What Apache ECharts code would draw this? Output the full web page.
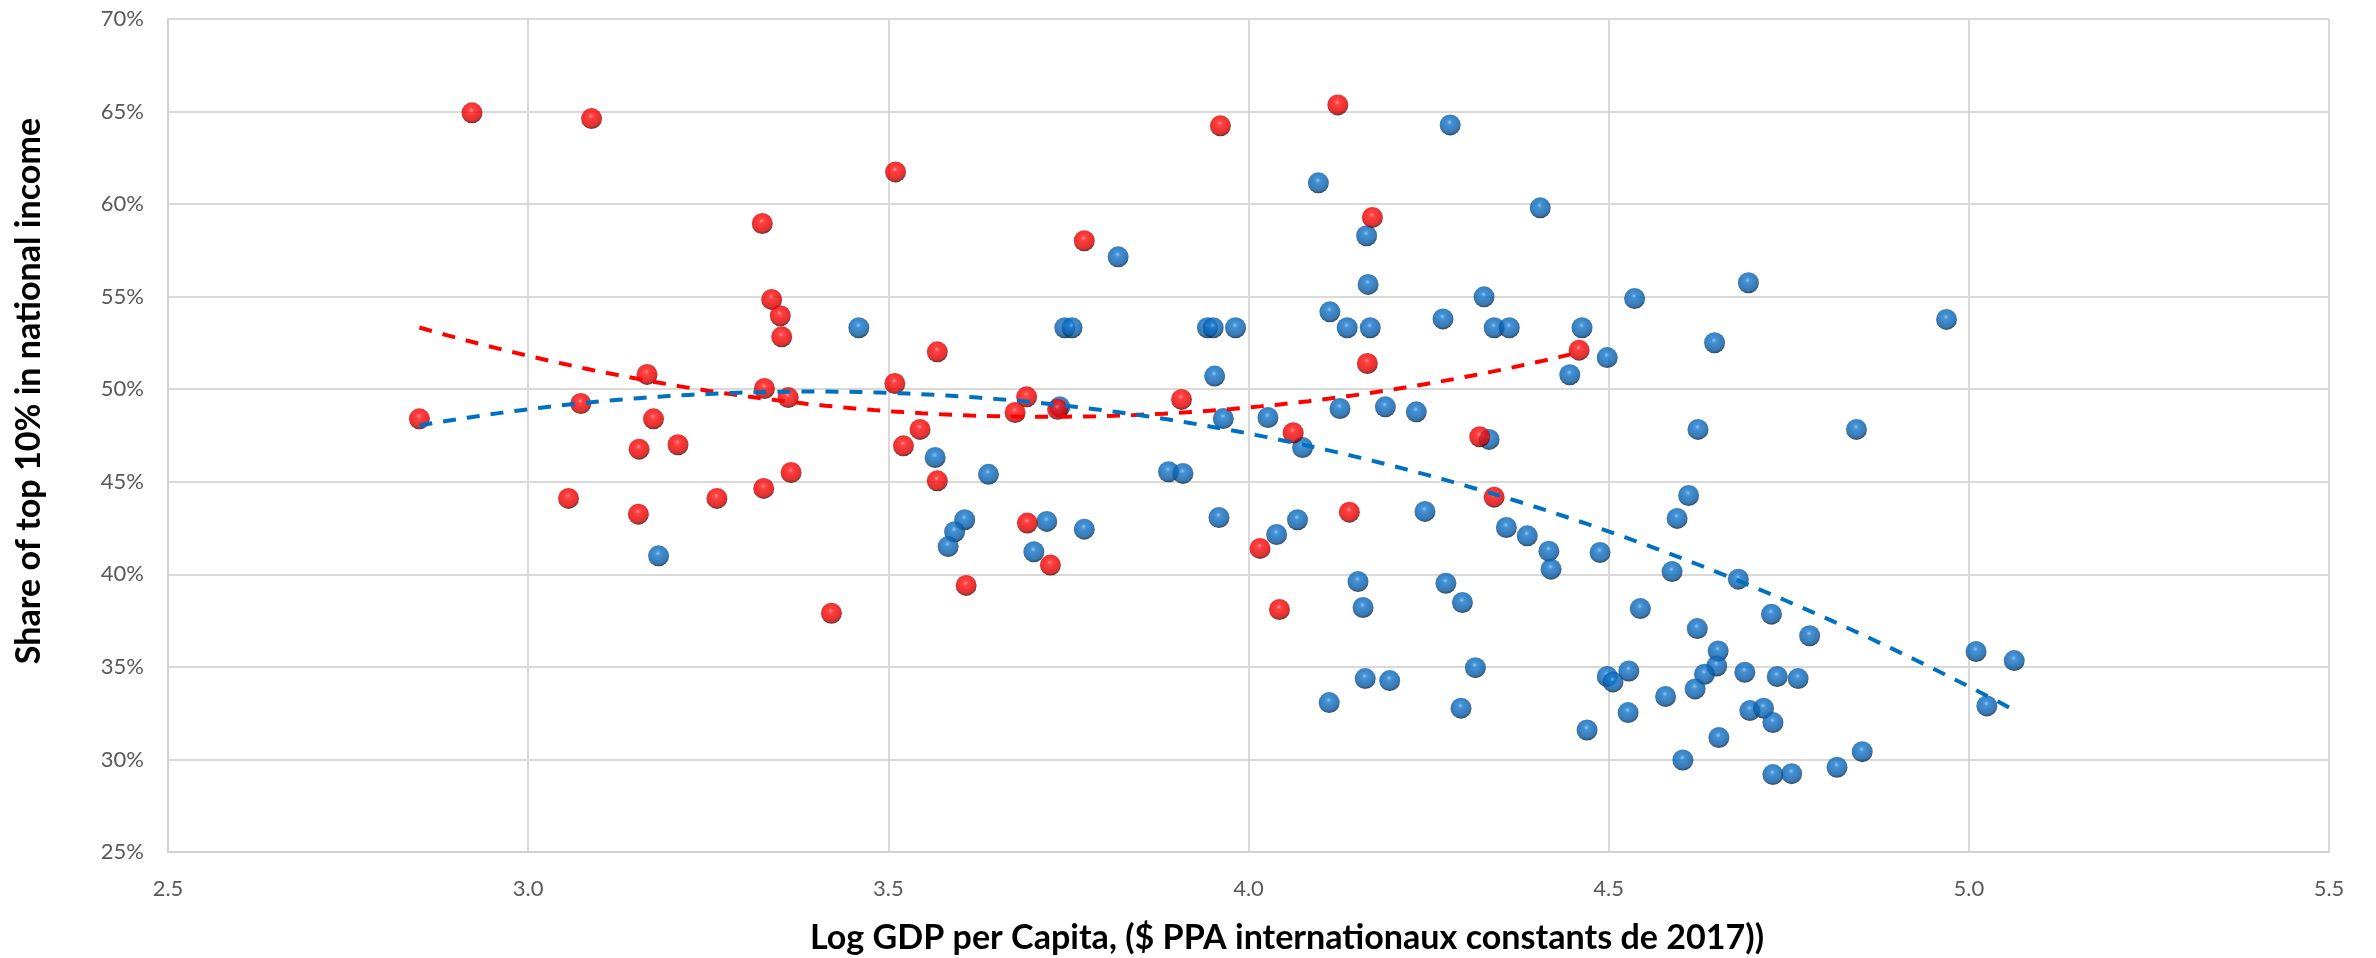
<!DOCTYPE html>
<html>
<head>
<meta charset="utf-8">
<title>Top 10% income share vs log GDP per capita</title>
<script src="https://cdn.jsdelivr.net/npm/echarts@6/dist/echarts.min.js"></script>
<style>
  html, body { margin: 0; padding: 0; background: #ffffff; }
  #chart { width: 2376px; height: 958px; }
</style>
</head>
<body>
<div id="chart"></div>
<script>
// Highlighted group (red): [log GDP per capita, top 10% share in %]
const redPoints = [
  [2.849, 48.40], [2.922, 64.93], [3.088, 64.62], [3.165, 50.80], [3.073, 49.23],
  [3.174, 48.40], [3.154, 46.76], [3.208, 47.00], [3.056, 44.10], [3.153, 43.25],
  [3.262, 44.10], [3.961, 64.23], [4.124, 65.36], [3.510, 61.74], [3.325, 58.95],
  [3.772, 58.02], [3.338, 54.85], [3.350, 53.97], [3.352, 52.83], [3.568, 52.02],
  [3.328, 50.04], [3.361, 49.55], [3.509, 50.31], [3.692, 49.59], [3.676, 48.74],
  [3.735, 48.92], [3.907, 49.45], [4.062, 47.65], [3.544, 47.83], [3.521, 46.94],
  [3.365, 45.50], [3.327, 44.64], [3.568, 45.05], [3.693, 42.77], [3.725, 40.50],
  [3.608, 39.40], [3.421, 37.90], [4.016, 41.40], [4.043, 38.10], [4.140, 43.36],
  [4.172, 59.28], [4.165, 51.39], [4.459, 52.11], [4.321, 47.43], [4.341, 44.17]
];

// Remaining countries (blue)
const bluePoints = [
  [3.181, 41.00], [4.097, 61.15], [3.819, 57.15], [3.459, 53.32], [3.745, 53.32],
  [3.755, 53.32], [3.943, 53.32], [3.951, 53.32], [3.982, 53.32], [4.113, 54.18],
  [3.953, 50.71], [3.738, 49.05], [3.965, 48.42], [4.027, 48.47], [4.075, 46.85],
  [3.565, 46.31], [3.639, 45.40], [3.889, 45.54], [3.909, 45.45], [3.606, 42.95],
  [3.592, 42.30], [3.583, 41.50], [3.720, 42.86], [3.702, 41.22], [3.772, 42.44],
  [3.959, 43.07], [4.039, 42.15], [4.068, 42.95], [4.112, 33.07], [4.280, 64.28],
  [4.405, 59.80], [4.164, 58.29], [4.166, 55.66], [4.327, 54.99], [4.137, 53.32],
  [4.169, 53.32], [4.270, 53.80], [4.341, 53.32], [4.362, 53.32], [4.463, 53.32],
  [4.536, 54.90], [4.694, 55.75], [4.647, 52.51], [4.498, 51.71], [4.446, 50.78],
  [4.127, 48.96], [4.190, 49.05], [4.233, 48.78], [4.334, 47.29], [4.624, 47.83],
  [4.844, 47.83], [4.245, 43.40], [4.611, 44.26], [4.595, 43.02], [4.358, 42.53],
  [4.387, 42.08], [4.417, 41.25], [4.420, 40.28], [4.488, 41.18], [4.588, 40.15],
  [4.680, 39.74], [4.152, 39.61], [4.159, 38.21], [4.274, 39.52], [4.297, 38.48],
  [4.544, 38.15], [4.726, 37.85], [4.623, 37.07], [4.779, 36.68], [4.652, 35.86],
  [4.650, 35.05], [4.633, 34.60], [4.689, 34.71], [4.734, 34.48], [4.763, 34.37],
  [4.620, 33.81], [4.579, 33.40], [4.498, 34.48], [4.506, 34.19], [4.528, 34.78],
  [4.527, 32.53], [4.470, 31.59], [4.696, 32.64], [4.715, 32.77], [4.728, 31.99],
  [4.653, 31.18], [4.603, 29.97], [4.728, 29.18], [4.754, 29.23], [4.817, 29.58],
  [4.852, 30.42], [4.162, 34.37], [4.196, 34.26], [4.315, 34.96], [4.295, 32.77],
  [4.969, 53.77], [5.010, 35.83], [5.063, 35.34], [5.025, 32.89]
];

// Axis ranges and ticks
const xTicks = { min: 2.5, max: 5.5, interval: 0.5 };
const yTicks = { min: 25, max: 70, interval: 5 };

const xTitle = 'Log GDP per Capita, ($ PPA internationaux constants de 2017))';
const yTitle = 'Share of top 10% in national income';

// Quadratic least-squares trend over a set of points, sampled across its x range
function quadTrend(points, steps) {
  let n = points.length, sx = 0, sx2 = 0, sx3 = 0, sx4 = 0, sy = 0, sxy = 0, sx2y = 0;
  let xmin = Infinity, xmax = -Infinity;
  points.forEach(([x, y]) => {
    const x2 = x * x;
    sx += x; sx2 += x2; sx3 += x2 * x; sx4 += x2 * x2;
    sy += y; sxy += x * y; sx2y += x2 * y;
    xmin = Math.min(xmin, x); xmax = Math.max(xmax, x);
  });
  // Solve normal equations via Cramer's rule
  const M = [[n, sx, sx2], [sx, sx2, sx3], [sx2, sx3, sx4]];
  const B = [sy, sxy, sx2y];
  const det = m => m[0][0] * (m[1][1] * m[2][2] - m[1][2] * m[2][1])
                 - m[0][1] * (m[1][0] * m[2][2] - m[1][2] * m[2][0])
                 + m[0][2] * (m[1][0] * m[2][1] - m[1][1] * m[2][0]);
  const D = det(M);
  const coef = [0, 1, 2].map(k => det(M.map((row, i) => row.map((v, j) => (j === k ? B[i] : v)))) / D);
  const out = [];
  for (let i = 0; i <= steps; i++) {
    const x = xmin + (xmax - xmin) * i / steps;
    out.push([x, coef[0] + coef[1] * x + coef[2] * x * x]);
  }
  return out;
}

const redTrend = quadTrend(redPoints, 120);
const allTrend = quadTrend(bluePoints.concat(redPoints), 160);

const FONT = 'Lato, "Noto Sans", sans-serif';

// Fit the bold axis titles to their drawn width
const measure = document.createElement('canvas').getContext('2d');
measure.font = 'bold 100px ' + FONT;
const titleSize = Math.round(100 * 956 / measure.measureText(xTitle).width * 10) / 10;

// Glossy ball fill: small highlight above centre, saturated body, dark lower rim
function sphere(stops) {
  return {
    type: 'radial', x: 0.47, y: 0.38, r: 0.62,
    colorStops: stops.map(([offset, color]) => ({ offset, color }))
  };
}

const redBall = sphere([[0, '#ff8080'], [0.18, '#ff1414'], [0.55, '#f00000'], [0.78, '#d20000'], [0.9, '#8a0000'], [1, '#300000']]);
const blueBall = sphere([[0, '#6db9f3'], [0.2, '#1577cc'], [0.55, '#0a64b4'], [0.78, '#09569d'], [0.9, '#053866'], [1, '#011a33']]);

const chart = echarts.init(document.getElementById('chart'), null, { renderer: 'canvas' });

const dash = [13, 11];

chart.setOption({
  backgroundColor: '#ffffff',
  animation: false,
  textStyle: { fontFamily: FONT },
  grid: { left: 168, right: 47, top: 19, bottom: 106, containLabel: false, outerBoundsMode: 'none' },
  xAxis: {
    type: 'value',
    min: xTicks.min, max: xTicks.max, interval: xTicks.interval,
    axisLine: { show: true, lineStyle: { color: '#d0d0d0', width: 2 } },
    axisTick: { show: false },
    axisLabel: {
      color: '#595959', fontSize: 22, fontFamily: FONT, margin: 26,
      formatter: v => v.toFixed(1)
    },
    splitLine: { show: true, lineStyle: { color: '#d9d9d9', width: 2 } }
  },
  yAxis: {
    type: 'value',
    min: yTicks.min, max: yTicks.max, interval: yTicks.interval,
    axisLine: { show: true, lineStyle: { color: '#d0d0d0', width: 2 } },
    axisTick: { show: false },
    axisLabel: {
      color: '#595959', fontSize: 22, fontFamily: FONT, margin: 24,
      formatter: v => v + '%'
    },
    splitLine: { show: true, lineStyle: { color: '#d9d9d9', width: 2 } }
  },
  graphic: [
    {
      type: 'text', x: 1287, y: 938,
      style: {
        text: xTitle, fill: '#000000', font: 'bold ' + titleSize + 'px ' + FONT,
        textAlign: 'center', textVerticalAlign: 'middle'
      }
    },
    {
      type: 'text', x: 29, y: 391, rotation: Math.PI / 2,
      style: {
        text: yTitle, fill: '#000000', font: 'bold ' + titleSize + 'px ' + FONT,
        textAlign: 'center', textVerticalAlign: 'middle'
      }
    }
  ],
  series: [
    {
      name: 'blueGroup', type: 'scatter', data: bluePoints, symbol: 'circle', symbolSize: 21, z: 2,
      itemStyle: { color: blueBall }
    },
    {
      name: 'redGroup', type: 'scatter', data: redPoints, symbol: 'circle', symbolSize: 21, z: 3,
      itemStyle: { color: redBall }
    },
    {
      name: 'redTrend', type: 'line', data: redTrend, showSymbol: false, symbol: 'none', z: 4,
      lineStyle: { color: '#ff0000', width: 4, type: dash, cap: 'butt' }
    },
    {
      name: 'allTrend', type: 'line', data: allTrend, showSymbol: false, symbol: 'none', z: 5,
      lineStyle: { color: '#0070c0', width: 4, type: dash, cap: 'butt' }
    }
  ]
});
</script>
</body>
</html>
